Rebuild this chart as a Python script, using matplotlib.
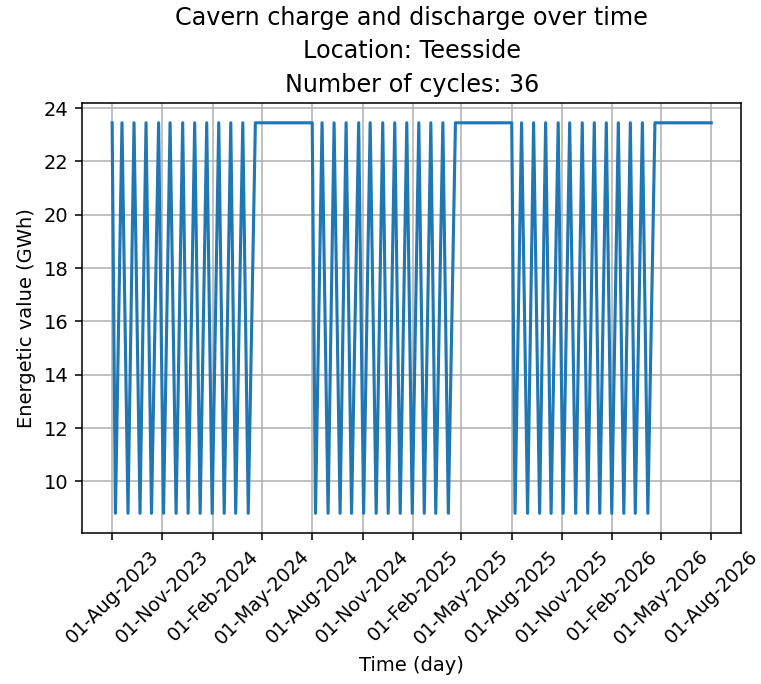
import datetime as dt

import matplotlib
matplotlib.use('Agg')
import matplotlib.pyplot as plt
import matplotlib.dates as mdates

location = 'Teesside'
n_cycles = 36

# start of each storage season (1st of August)
season_starts = ['2023-08-01', '2024-08-01', '2025-08-01']
series_end = '2026-08-01'

# day offsets within a season where the cavern is empty / full again
empty_days = [6, 29, 51, 72, 94, 117, 139, 161, 183, 205, 226, 249]
full_days = [18, 40, 62, 85, 106, 129, 151, 173, 195, 217, 239, 262]

e_max = 23.45  # GWh, full cavern
e_min = 8.8    # GWh, cushion level

fechas = []
values = []
for s in season_starts:
    d0 = dt.datetime.strptime(s, '%Y-%m-%d')
    fechas.append(d0)
    values.append(e_max)
    for de, df in zip(empty_days, full_days):
        fechas.append(d0 + dt.timedelta(days=de))
        values.append(e_min)
        fechas.append(d0 + dt.timedelta(days=df))
        values.append(e_max)
fechas.append(dt.datetime.strptime(series_end, '%Y-%m-%d'))
values.append(e_max)

dpi = 140
fig, ax = plt.subplots(figsize=(761 / dpi, 684 / dpi), dpi=dpi)
fig.subplots_adjust(left=0.108, right=0.974, bottom=0.221, top=0.849)

ax.plot(fechas, values, lw=1.6)

ax.xaxis.set_major_locator(mdates.MonthLocator(bymonth=[2, 5, 8, 11],
                                               bymonthday=1))
ax.xaxis.set_major_formatter(mdates.DateFormatter('%d-%b-%Y'))
plt.xticks(rotation=45, fontsize=9.8)

ax.set_xlabel('Time (day)')
ax.set_ylabel('Energetic value (GWh)')
ax.set_title('Cavern charge and discharge over time\n'
             f'Location: {location}\nNumber of cycles: {n_cycles}',
             fontsize=12.3, linespacing=1.5, pad=6)
ax.grid(True)

fig.savefig('out.png', dpi=dpi)
plt.close('all')
